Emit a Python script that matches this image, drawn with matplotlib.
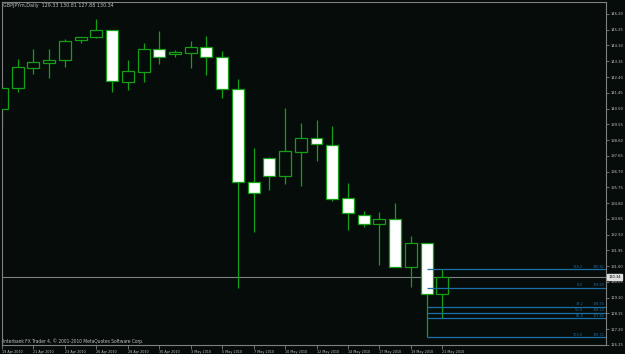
import numpy as np
import matplotlib.pyplot as plt
from matplotlib import font_manager as fm

# GBPJPYm daily bars
opens = [140.47, 141.72, 142.96, 143.26, 143.41, 144.65, 144.80, 145.22, 142.12, 142.72,
         144.07, 143.79, 143.87, 144.19, 143.59, 141.66, 136.07, 137.50, 136.45, 137.90,
         138.73, 138.32, 135.09, 134.07, 133.52, 133.82, 130.93, 132.38, 129.33]
highs = [141.92, 143.47, 144.09, 144.09, 144.69, 144.82, 145.90, 145.24, 143.43, 144.47,
         145.16, 144.03, 144.55, 144.87, 143.99, 142.26, 138.14, 137.58, 140.52, 139.61,
         139.81, 139.47, 136.01, 134.32, 134.26, 134.81, 132.82, 132.41, 130.81]
lows = [139.33, 141.48, 142.58, 142.36, 143.02, 144.43, 144.78, 141.52, 141.64, 142.12,
        143.20, 143.63, 142.93, 142.52, 141.15, 129.68, 133.06, 135.61, 135.95, 135.83,
        137.36, 134.95, 133.18, 133.38, 131.07, 130.93, 129.73, 126.72, 127.88]
closes = [141.74, 142.99, 143.29, 143.45, 144.55, 144.80, 145.22, 142.14, 142.76, 144.07,
          143.61, 143.93, 144.21, 143.59, 141.68, 136.07, 135.43, 136.45, 137.92, 138.73,
          138.35, 135.07, 134.19, 133.54, 133.82, 130.97, 132.38, 129.32, 130.34]

date_labels = ['19 Apr 2010', '21 Apr 2010', '23 Apr 2010', '26 Apr 2010', '28 Apr 2010',
               '30 Apr 2010', '3 May 2010', '5 May 2010', '7 May 2010', '10 May 2010',
               '12 May 2010', '14 May 2010', '17 May 2010', '19 May 2010', '21 May 2010']

price_ticks = [126.25, 127.20, 128.15, 129.10, 130.05, 131.00, 131.95, 132.90, 133.85,
               134.80, 135.75, 136.70, 137.65, 138.60, 139.55, 140.50, 141.45, 142.40,
               143.35, 144.30, 145.25, 146.20]

fib_levels = ['138.2', '0.0', '38.2', '50.0', '61.8', '100.0']
fib_prices = [130.82, 129.69, 128.55, 128.20, 127.85, 126.72]

bid = 130.34

bg = '#060c0a'
green = '#14a014'
txt = '#c0c0c0'
grey = '#808080'
fibc = '#1c70a8'

names = {f.name for f in fm.fontManager.ttflist}
fam = 'Liberation Sans Narrow' if 'Liberation Sans Narrow' in names else 'DejaVu Sans'
plt.rcParams['font.family'] = [fam, 'DejaVu Sans']
plt.rcParams['font.stretch'] = 'condensed'

fig = plt.figure(figsize=(6.25, 3.54), dpi=100, facecolor=bg)
ax = fig.add_axes([2 / 625, 9 / 354, 604 / 625, 343 / 354], facecolor=bg)

x = np.arange(len(opens))
o = np.array(opens)
c = np.array(closes)
bottom = np.minimum(o, c)
height = np.abs(c - o)
fill = ['white' if cc < oo else bg for oo, cc in zip(o, c)]

ax.vlines(x, lows, highs, color=green, lw=0.9, zorder=2)
ax.bar(x, height, bottom=bottom, width=0.76, color=fill, edgecolor=green,
       linewidth=0.9, zorder=3)

# bid line
ax.axhline(bid, color=grey, lw=0.8, zorder=1)

# fibonacci levels
xr = 38.41
ax.hlines(fib_prices, 27, xr, color=fibc, lw=0.9, zorder=4)
lev_txt = []
prc_txt = []
for lev, p in zip(fib_levels, fib_prices):
    lev_txt.append(ax.text(36.96, p + 0.03, lev, color=fibc, fontsize=4, ha='right',
                           va='bottom', zorder=5))
    prc_txt.append(ax.text(38.30, p + 0.03, '%.2f' % p, color=fibc, fontsize=4,
                           ha='right', va='bottom', zorder=5))

ax.set_xlim(0.01, xr)
ax.set_ylim(126.25, 146.92)

ax.yaxis.tick_right()
ax.set_yticks(price_ticks)
ax.set_yticklabels(['%.2f' % t for t in price_ticks])
ax.tick_params(axis='y', colors=grey, labelcolor=txt, labelsize=4, length=2,
               width=0.6, pad=1)

ax.set_xticks(x[::2])
ax.set_xticklabels(date_labels, ha='left')
ax.tick_params(axis='x', colors=grey, labelcolor=txt, labelsize=4, length=3,
               width=0.6, pad=0.5)

for s in ax.spines.values():
    s.set_color(grey)
    s.set_linewidth(0.8)

# bid label box on the price scale
bid_t = ax.text(1.004, bid, '%.2f' % bid, transform=ax.get_yaxis_transform(),
                color='black', fontsize=4, ha='left', va='center',
                bbox=dict(boxstyle='square,pad=0.25', fc='#e0e0e0', ec='#e0e0e0'),
                zorder=6, clip_on=False)

title = fig.text(3 / 625, 1 - 5.5 / 354, 'GBPJPYm,Daily  129.33 130.81 127.88 130.34',
                 color=txt, fontsize=4.5, ha='left', va='center')
copy = fig.text(3 / 625, 1 - 341.5 / 354,
                'Interbank FX Trader 4, \u00a9 2001-2010 MetaQuotes Software Corp.',
                color=txt, fontsize=4.5, ha='left', va='center')

# shrink/grow the small texts so they take the same width as in the screenshot
fig.canvas.draw()
r = fig.canvas.get_renderer()


def fit(t, px):
    w = t.get_window_extent(r).width
    t.set_fontsize(t.get_fontsize() * px / w)


fit(title, 110)
fit(copy, 143)
fit(bid_t, 12.5)
for t in lev_txt:
    fit(t, 2.0 * len(t.get_text()))
for t in prc_txt:
    fit(t, 11.5)

w = ax.get_yticklabels()[0].get_window_extent(r).width
ax.tick_params(axis='y', labelsize=4 * 12.7 / w)
w = ax.get_xticklabels()[0].get_window_extent(r).width
ax.tick_params(axis='x', labelsize=4 * 20.5 / w)

fig.savefig('out.png', dpi=100, facecolor=bg)
